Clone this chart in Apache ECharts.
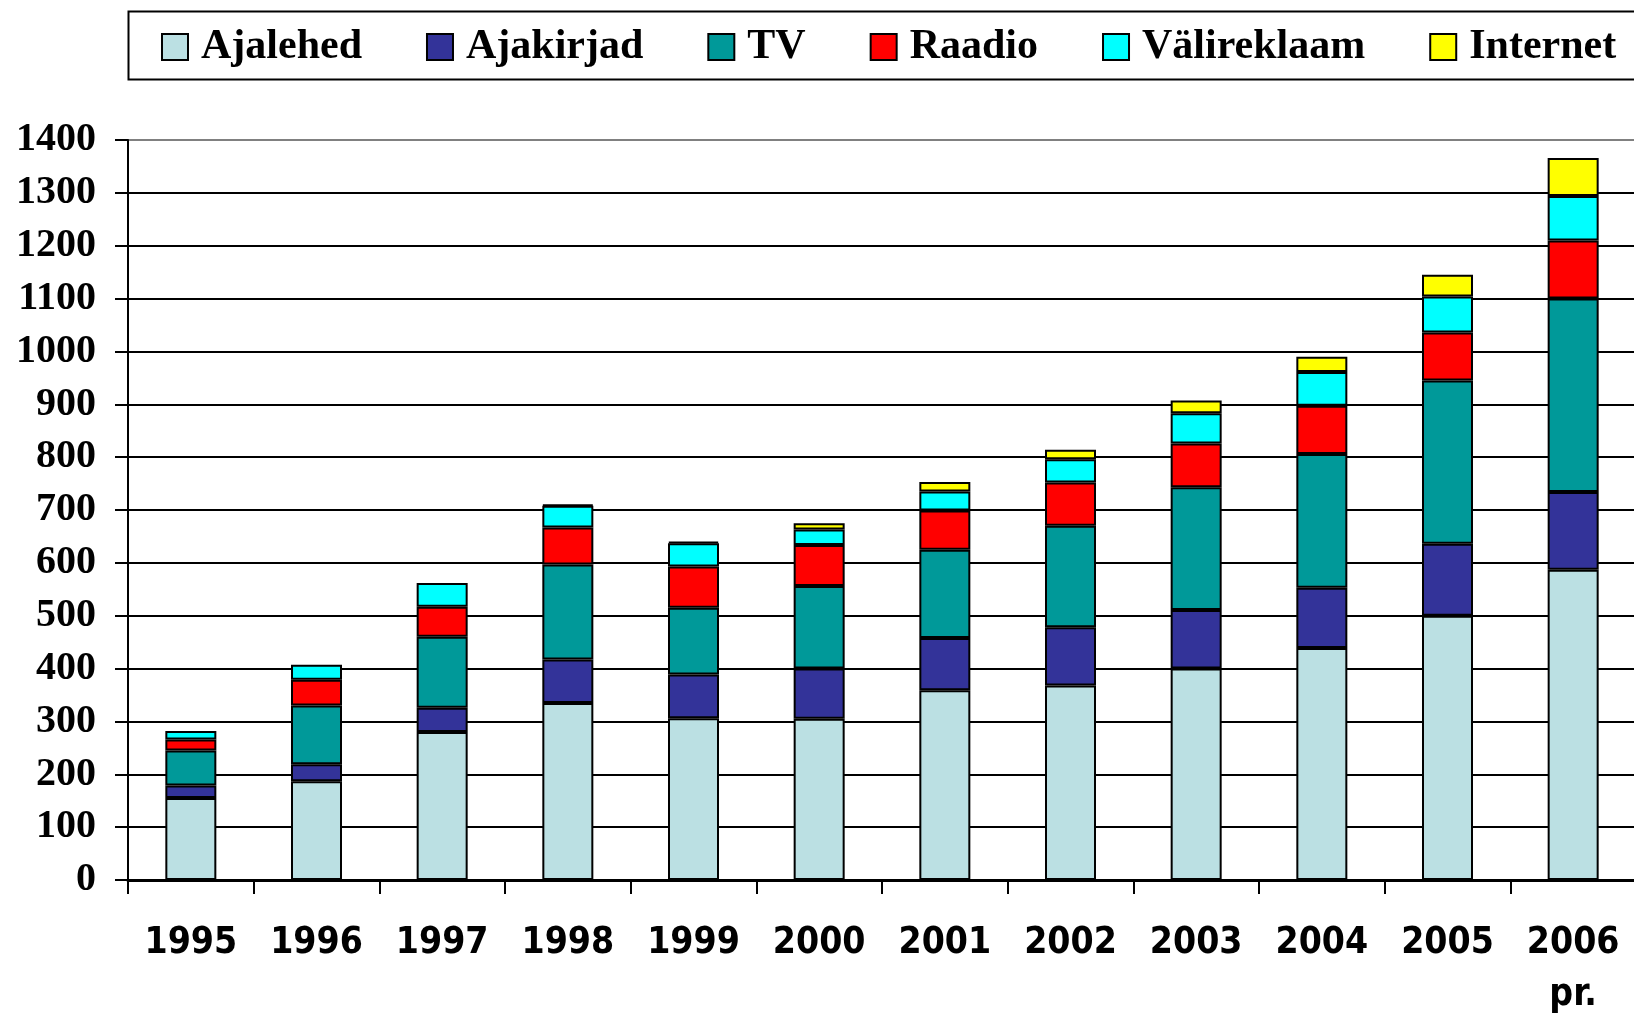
<!DOCTYPE html>
<html>
<head>
<meta charset="utf-8">
<title>Reklaamiturg</title>
<script src="https://cdn.jsdelivr.net/npm/echarts@6/dist/echarts.min.js"></script>
<style>
html,body{
margin:0;
background:#ffffff;
}
#chart{
width:1634px;
height:1016px;
}
</style>
</head>
<body>

<div id="chart"></div>

<script>

const years=["1995","1996","1997","1998","1999","2000","2001","2002","2003","2004","2005","2006\npr."]

const ajalehed=[155,187,280,335,306,305,359,368,400,439,500,587]
const ajakirjad=[24,32,46,82,83,95,99,110,111,114,136,147]
const tv=[66,111,134,180,126,156,167,192,232,253,309,366]
const raadio=[21,49,57,70,78,78,74,82,83,91,91,110]
const valireklaam=[16,28,45,41,44,29,36,44,57,64,68,84]
const internet=[null,null,null,2,3,12,18,18,24,29,41,72]

const yMin=0
const yMax=1400
const yStep=100

const names=["Ajalehed","Ajakirjad","TV","Raadio","Välireklaam","Internet"]
const colors=["#bbe0e3","#333399","#009999","#ff0000","#00ffff","#ffff00"]
const values=[ajalehed,ajakirjad,tv,raadio,valireklaam,internet]

// top gridline is grey, the rest black
const gridColors=[]
for(let v=yMin;v<=yMax;v+=yStep){
gridColors.push(v===yMax?"#808080":"#000000")
}

const chart=echarts.init(document.getElementById("chart"))

chart.setOption({

animation:false,

// frame around the legend, open on the right like the original
graphic:[{
type:"rect",
left:126,
top:9,
shape:{width:1530,height:68},
style:{fill:"none",stroke:"#000000",lineWidth:2},
silent:true
}],

legend:{
left:161,
top:24,
width:1600,
padding:0,
itemGap:64,
itemWidth:26,
itemHeight:26,
icon:"rect",
data:names,
textStyle:{
fontFamily:"Liberation Serif",
fontWeight:"bold",
fontSize:42,
lineHeight:44,
padding:[2,0,0,8],
color:"#000000"
}
},

grid:{
left:128,
width:1508,
top:140,
bottom:136,
outerBoundsMode:"none"
},

xAxis:{
type:"category",
data:years,
axisLine:{lineStyle:{color:"#000000",width:3}},
axisTick:{show:true,length:14,lineStyle:{color:"#000000",width:2}},
axisLabel:{
margin:37,
interval:0,
fontFamily:"DejaVu Sans Condensed, DejaVu Sans",
fontWeight:"bold",
fontSize:37,
lineHeight:52,
color:"#000000"
}
},

yAxis:{
type:"value",
min:yMin,
max:yMax,
interval:yStep,
axisLine:{show:true,lineStyle:{color:"#000000",width:2}},
axisTick:{show:true,length:13,lineStyle:{color:"#000000",width:2}},
splitLine:{show:true,lineStyle:{color:gridColors,width:2}},
axisLabel:{
margin:32,
formatter:v=>String(v),
fontFamily:"Liberation Serif",
fontWeight:"bold",
fontSize:40,
color:"#000000"
}
},

series:names.map((n,i)=>({
name:n,
type:"bar",
stack:"total",
barWidth:51,
data:values[i],
itemStyle:{
color:colors[i],
borderColor:"#000000",
borderWidth:2
}
}))

})

</script>

</body>
</html>
